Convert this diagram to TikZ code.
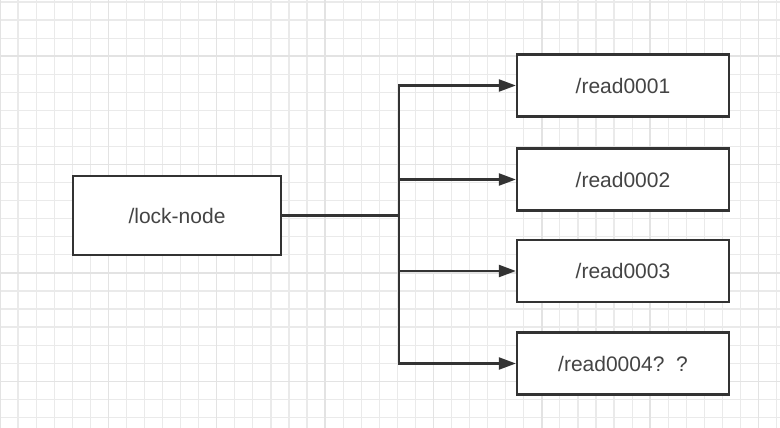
\documentclass[tikz,border=0pt]{standalone}
\usepackage{fontspec}
\setmainfont{Liberation Sans}
\usetikzlibrary{arrows.meta}
\definecolor{ink}{HTML}{333333}
\definecolor{txt}{HTML}{444444}
\definecolor{gridminor}{HTML}{EAEAEA}
\definecolor{gridmajor}{HTML}{E3E3E3}
\tikzset{
  box/.style={draw=ink, line width=2.3pt, fill=white, text=txt,
    font=\fontsize{21}{25}\selectfont, inner sep=0pt},
  lockbox/.style={box, minimum width=208pt, minimum height=79pt},
  readbox/.style={box, minimum width=212pt, minimum height=62pt},
  conn/.style={draw=ink, line width=2.3pt},
  arr/.style={conn, -{Triangle[length=17pt,width=12pt]}},
}
\begin{document}
\begin{tikzpicture}[x=1pt,y=-1pt]
  \useasboundingbox (0,0) rectangle (780,428);
  \fill[white] (0,0) rectangle (780,428);
  % grid
  \foreach \i in {0,...,43} {
    \pgfmathsetmacro{\xx}{18.06*\i}
    \draw[gridminor, line width=1.2pt] (\xx,0) -- (\xx,428);
  }
  \foreach \i in {0,...,23} {
    \pgfmathsetmacro{\yy}{2+18.06*\i}
    \draw[gridminor, line width=1.2pt] (0,\yy) -- (780,\yy);
  }
  \foreach \i in {0,6,...,42} {
    \pgfmathsetmacro{\xx}{18.06*\i}
    \draw[gridmajor, line width=1.4pt] (\xx,0) -- (\xx,428);
  }
  \foreach \i in {3,9,15,21} {
    \pgfmathsetmacro{\yy}{2+18.06*\i}
    \draw[gridmajor, line width=1.4pt] (0,\yy) -- (780,\yy);
  }
  % nodes
  \node[lockbox] (lock) at (177,215.5) {/lock-node};
  \node[readbox] (r1) at (623,85.5) {/read0001};
  \node[readbox] (r2) at (623,179.5) {/read0002};
  \node[readbox] (r3) at (623,271) {/read0003};
  \node[readbox] (r4) at (623,363.5) {/read0004?\ \ ?};
  \coordinate (j) at (399,215.5);
  % connectors
  \draw[conn] (lock.east) -- (j);
  \draw[conn, line cap=rect] (j |- r1) -- (j |- r4);
  \foreach \r in {r1,r2,r3,r4} {
    \draw[arr] (j |- \r) -- (\r.west);
  }
\end{tikzpicture}
\end{document}
